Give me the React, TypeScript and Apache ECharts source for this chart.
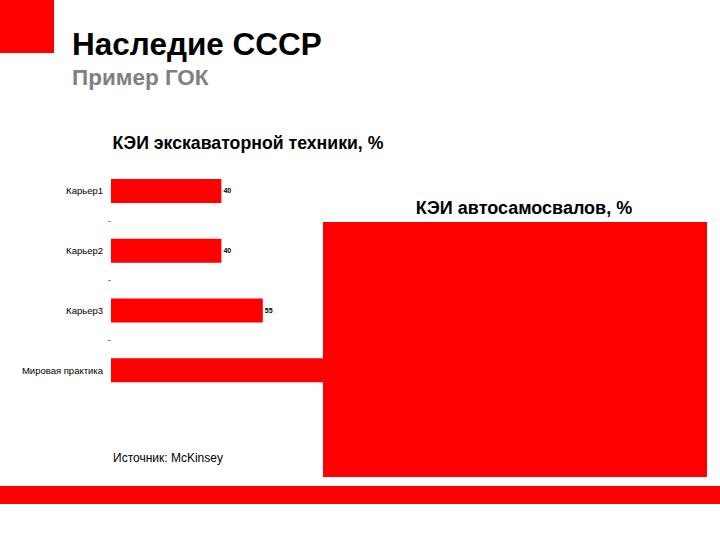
import React, { useEffect, useRef } from "react";
import * as echarts from "echarts";

const categories = ["Карьер1", "Карьер2", "Карьер3", "Мировая практика"];
const values = [40, 40, 55, 85];
const tickSlots = ["", "", "", "", ""];
const titleText = "Наследие СССР";
const subtitleText = "Пример ГОК";
const chartTitle = "КЭИ экскаваторной техники, %";
const chartTitle2 = "КЭИ автосамосвалов, %";
const sourceText = "Источник: McKinsey";

const FONT = '"Liberation Sans", Arial, sans-serif';
const RED = "#ff0000";

function txt(x: number, y: number, text: string, size: number, weight: string, color: string, align = "left") {
  return {
    type: "text",
    x,
    y,
    z: 110,
    style: {
      text,
      fill: color,
      fontSize: size,
      fontWeight: weight,
      fontFamily: FONT,
      align,
      textAlign: align,
      verticalAlign: "middle",
      textVerticalAlign: "middle",
    },
  };
}

export default function App() {
  const ref = useRef<HTMLDivElement>(null);
  useEffect(() => {
    const chart = echarts.init(ref.current!, null, { renderer: "svg" });
    chart.setOption({
      animation: false,
      backgroundColor: "#ffffff",
      grid: { left: 111, top: 161, width: 276, height: 239, containLabel: false },
      xAxis: { type: "value", min: 0, max: 100, show: false },
      yAxis: [
        {
          type: "category",
          data: categories,
          inverse: true,
          axisLine: { show: false },
          axisTick: { show: false },
          splitLine: { show: false },
          axisLabel: { fontSize: 9.5, color: "#000", margin: 8, fontFamily: FONT },
        },
        {
          type: "category",
          data: tickSlots,
          boundaryGap: false,
          position: "left",
          offset: 0,
          axisLine: { show: false },
          axisLabel: { show: false },
          splitLine: { show: false },
          axisTick: {
            show: true,
            length: 3,
            interval: (i: number) => i > 0 && i < 4,
            lineStyle: { color: "#8a8a8a", width: 1 },
          },
        },
      ],
      series: [
        {
          type: "bar",
          data: values,
          yAxisIndex: 0,
          barWidth: 24,
          itemStyle: { color: RED },
          label: {
            show: true,
            position: "right",
            distance: 2,
            fontSize: 7,
            fontWeight: "bold",
            color: "#000000",
            fontFamily: FONT,
          },
        },
      ],
      graphic: [
        { type: "rect", shape: { x: 0, y: 0, width: 54, height: 53 }, style: { fill: RED }, z: 100 },
        txt(72, 44, titleText, 31.5, "bold", "#000"),
        txt(72, 77, subtitleText, 22.5, "bold", "#808080"),
        txt(248, 143, chartTitle, 17.7, "bold", "#000", "center"),
        txt(524, 208, chartTitle2, 18, "bold", "#000", "center"),
        { type: "rect", shape: { x: 323, y: 222, width: 384, height: 255 }, style: { fill: RED }, z: 100 },
        txt(113, 458, sourceText, 12, "normal", "#000"),
        { type: "rect", shape: { x: 0, y: 486, width: 720, height: 18 }, style: { fill: RED }, z: 100 },
      ],
    });
    return () => chart.dispose();
  }, []);
  return (
    <div
      ref={ref}
      style={{ position: "absolute", left: 0, top: 0, width: 720, height: 540 }}
    />
  );
}
